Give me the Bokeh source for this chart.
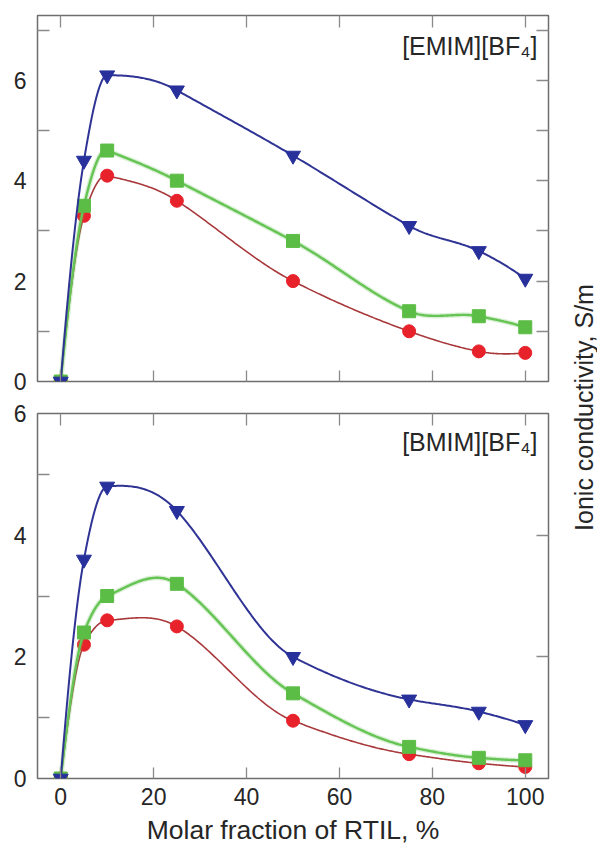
import numpy as np
from bokeh.plotting import figure
from bokeh.layouts import row, column
from bokeh.models import Range1d, LinearAxis, FixedTicker, Label
from bokeh.embed import file_html
from bokeh.resources import INLINE

# ---------------- data ----------------
x_frac = [0, 5, 10, 25, 50, 75, 90, 100]

emim_tri = [0, 4.4, 6.1, 5.8, 4.5, 3.1, 2.6, 2.05]
emim_sq = [0, 3.5, 4.6, 4.0, 2.8, 1.4, 1.3, 1.08]
emim_circ = [0, 3.3, 4.1, 3.6, 2.0, 1.0, 0.6, 0.57]

bmim_tri = [0, 3.6, 4.8, 4.4, 2.0, 1.3, 1.1, 0.88]
bmim_sq = [0, 2.4, 3.0, 3.2, 1.4, 0.52, 0.34, 0.3]
bmim_circ = [0, 2.2, 2.6, 2.5, 0.95, 0.4, 0.25, 0.19]

x_ticks = [0, 20, 40, 60, 80, 100]
x_label = "Molar fraction of RTIL, %"
y_label = "Ionic conductivity, S/m"
top_title = "[EMIM][BF\u2084]"
bottom_title = "[BMIM][BF\u2084]"

FONT = "Liberation Sans"
TXT = "#262626"
FRAME = "#6e6e6e"
TICK = "#8a8a8a"
RED_M, RED_L = "#e8222b", "#a8383a"
GRN_M, GRN_L = "#5cbd46", "#66c455"
BLU_M, BLU_L = "#27309b", "#2e3394"


def akima_curve(x, y, n=400):
    """Smooth drawing curve through the data points (Akima spline)."""
    x = np.asarray(x, float)
    y = np.asarray(y, float)
    m = len(x)
    s = np.diff(y) / np.diff(x)
    sm1 = 2 * s[0] - s[1]
    sm2 = 2 * sm1 - s[0]
    sp1 = 2 * s[-1] - s[-2]
    sp2 = 2 * sp1 - s[-1]
    S = np.concatenate([[sm2, sm1], s, [sp1, sp2]])
    t = np.zeros(m)
    for i in range(m):
        s_m2, s_m1, s_0, s_p1 = S[i], S[i + 1], S[i + 2], S[i + 3]
        w1 = abs(s_p1 - s_0)
        w2 = abs(s_m1 - s_m2)
        if w1 + w2 < 1e-12:
            t[i] = 0.5 * (s_m1 + s_0)
        else:
            t[i] = (w1 * s_m1 + w2 * s_0) / (w1 + w2)
    xs_all, ys_all = [], []
    for i in range(m - 1):
        h = x[i + 1] - x[i]
        u = np.linspace(0, 1, n // (m - 1))
        h00 = 2 * u**3 - 3 * u**2 + 1
        h10 = u**3 - 2 * u**2 + u
        h01 = -2 * u**3 + 3 * u**2
        h11 = u**3 - u**2
        yy = h00 * y[i] + h10 * h * t[i] + h01 * y[i + 1] + h11 * h * t[i + 1]
        xs_all.append(x[i] + u * h)
        ys_all.append(yy)
    return np.concatenate(xs_all), np.concatenate(ys_all)


def tick_only_axis(ticks, tick_len):
    ax = LinearAxis(ticker=FixedTicker(ticks=ticks))
    ax.axis_line_color = None
    ax.major_tick_in = tick_len
    ax.major_tick_out = 0
    ax.major_tick_line_color = TICK
    ax.major_tick_line_width = 1.3
    ax.minor_tick_line_color = None
    ax.major_label_overrides = {v: "" for v in ticks}
    ax.major_label_text_font_size = "1px"
    ax.major_label_standoff = 0
    return ax


def make_panel(tri, sq, circ, ymax, fh, y_major, y_minor, right_ticks,
               title, title_y, show_x_labels, mt, mb):
    p = figure(frame_width=511, frame_height=fh,
               x_range=Range1d(-5, 105), y_range=Range1d(0, ymax),
               output_backend="svg", toolbar_location=None,
               min_border_left=37, min_border_right=12,
               min_border_top=mt, min_border_bottom=mb)
    p.grid.visible = False
    p.outline_line_color = FRAME
    p.outline_line_width = 1.5
    p.background_fill_color = "white"
    p.border_fill_color = "white"

    # bottom axis
    xa = p.xaxis[0]
    xa.ticker = FixedTicker(ticks=x_ticks)
    xa.axis_line_color = None
    xa.major_tick_in = 11
    xa.major_tick_out = 0
    xa.major_tick_line_color = TICK
    xa.major_tick_line_width = 1.3
    xa.minor_tick_line_color = None
    if show_x_labels:
        xa.major_label_text_font = FONT
        xa.major_label_text_font_size = "23px"
        xa.major_label_text_color = TXT
        xa.major_label_standoff = 9
        xa.axis_label = x_label
        xa.axis_label_text_font = FONT
        xa.axis_label_text_font_size = "26.5px"
        xa.axis_label_text_font_style = "normal"
        xa.axis_label_text_color = TXT
        xa.axis_label_standoff = 7
    else:
        xa.major_label_overrides = {v: "" for v in x_ticks}
        xa.major_label_text_font_size = "1px"
        xa.major_label_standoff = 0

    # left axis
    ya = p.yaxis[0]
    ya.ticker = FixedTicker(ticks=y_major, minor_ticks=y_minor)
    ya.axis_line_color = None
    ya.major_tick_in = 0
    ya.major_tick_out = 0
    ya.minor_tick_in = 12
    ya.minor_tick_out = 0
    ya.minor_tick_line_color = TICK
    ya.minor_tick_line_width = 1.3
    ya.major_label_text_font = FONT
    ya.major_label_text_font_size = "23px"
    ya.major_label_text_color = TXT
    ya.major_label_standoff = 11

    p.add_layout(tick_only_axis(right_ticks, 12), "right")
    p.add_layout(tick_only_axis(x_ticks, 12), "above")

    # series: red circles
    xs, ys = akima_curve(x_frac, circ)
    p.line(xs, ys, line_color=RED_L, line_width=1.6)
    p.scatter(x_frac, circ, marker="circle", size=13,
              fill_color=RED_M, line_color=RED_M, line_width=1)
    # green squares
    xs, ys = akima_curve(x_frac, sq)
    p.line(xs, ys, line_color=GRN_L, line_width=5, line_alpha=0.25)
    p.line(xs, ys, line_color=GRN_L, line_width=2.4)
    p.scatter(x_frac, sq, marker="square", size=13,
              fill_color=GRN_M, line_color=GRN_M, line_width=1)
    # blue inverted triangles
    xs, ys = akima_curve(x_frac, tri)
    p.line(xs, ys, line_color=BLU_L, line_width=2)
    p.scatter(x_frac, tri, marker="inverted_triangle", size=15,
              fill_color=BLU_M, line_color=BLU_M, line_width=1)

    p.add_layout(Label(x=102.6, y=title_y, text=title, text_align="right",
                       text_baseline="alphabetic", text_font=FONT,
                       text_font_size="25px", text_color=TXT))
    return p


p1 = make_panel(emim_tri, emim_sq, emim_circ, 7.29, 366,
                [0, 2, 4, 6], [1, 3, 5, 7], [1, 2, 3, 4, 5, 6, 7],
                top_title, 6.68, False, 15, 20)
p2 = make_panel(bmim_tri, bmim_sq, bmim_circ, 6.0, 365,
                [0, 2, 4, 6], [1, 3, 5], [2, 4],
                bottom_title, 5.53, True, 12, 60)

H = 844
plab = figure(frame_width=37, frame_height=H, x_range=Range1d(0, 37),
              y_range=Range1d(0, H), output_backend="svg",
              toolbar_location=None, min_border=0)
plab.axis.visible = False
plab.grid.visible = False
plab.outline_line_color = None
plab.add_layout(Label(x=23, y=H - 407, text=y_label, angle=np.pi / 2,
                      text_align="center", text_baseline="middle",
                      text_font=FONT, text_font_size="25px", text_color=TXT))

layout = row(column(p1, p2), plab)
open("out.html", "w").write(file_html(layout, INLINE))
